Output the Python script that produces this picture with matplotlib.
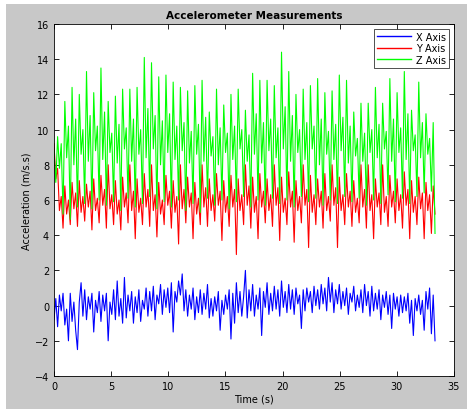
import numpy as np
import matplotlib.pyplot as plt
from matplotlib.patches import Rectangle

# sample spacing (s), ~4 samples per gait cycle
dt = 0.158

x_axis = [
    -0.8, 0.4, -1.2, 0.6, -0.3, 0.7, -1.1, -0.2,
    -2.0, 0.7, -0.9, 0.2, -1.4, -2.5, 0.2, 1.3,
    -0.6, 0.9, -0.8, 0.5, -0.2, 0.7, -1.5, 0.3,
    -0.4, 0.8, -0.9, 0.6, -0.3, 0.7, -2.0, 0.2,
    -0.5, 0.9, -0.8, 1.4, -0.6, 0.4, -1.0, 1.6,
    -0.7, 0.6, -0.3, 0.8, -1.0, 0.5, -0.4, 0.9,
    -0.9, 0.3, -0.2, 1.0, -0.6, 0.8, -0.3, 1.1,
    -0.8, 0.6, 0.1, 1.2, -0.5, 0.9, -0.1, 1.0,
    -0.4, 1.3, -1.5, 0.8, 0.2, 1.4, 0.6, 1.8,
    -0.3, 0.9, -0.6, 0.6, -0.2, 1.0, -0.8, 0.5,
    -0.4, 0.9, -0.5, 0.7, -0.2, 1.2, -0.7, 0.4,
    -0.6, 0.5, -0.3, 0.8, -1.4, 0.3, -0.5, 0.6,
    -0.2, 0.9, -1.9, 0.7, -1.0, 1.3, -0.4, 0.8,
    -0.6, 0.5, 2.0, -0.7, 0.9, -0.3, 1.2, -0.6,
    0.6, -0.2, 1.0, -1.7, 0.8, -0.1, 1.3, -0.5,
    0.7, -0.3, 1.1, -0.2, 0.9, -0.6, 1.4, -0.1,
    0.8, -0.4, 1.2, -0.2, 0.9, -0.5, 1.0, 0.1,
    0.6, -1.3, 0.9, -0.3, 1.0, 0.2, 0.8, -0.4,
    1.1, 0.0, 0.9, -0.2, 1.2, 0.1, 1.0, -0.3,
    1.6, 0.2, 1.3, -0.4, 0.9, 0.1, 1.2, -0.2,
    0.8, 0.0, 1.0, -0.5, 0.7, 0.2, 1.1, -0.3,
    0.6, -0.1, 0.9, -0.4, 1.2, 0.0, 0.8, -0.6,
    1.1, -0.3, 0.7, -0.2, 0.9, -0.8, 0.6, -0.1,
    0.8, -0.5, 0.6, -1.3, 0.7, -0.2, 0.5, -0.6,
    0.6, -0.4, 0.5, -0.3, 0.7, -1.0, 0.3, -1.7,
    0.4, -0.3, 0.6, -0.5, 0.3, -1.4, 0.8, -0.2,
    1.0, -1.6, 0.6, -2.0,
]

y_axis = [
    9.2,
    7.2, 7.8, 5.4, 6.2,  4.4, 6.8, 5.2, 6.0,
    4.6, 7.0, 5.5, 6.4,  4.5, 7.1, 5.3, 6.2,
    4.8, 6.9, 5.6, 6.5,  4.3, 7.2, 5.4, 6.1,
    4.7, 7.4, 5.7, 6.6,  4.4, 8.0, 5.5, 6.3,
    4.6, 7.1, 5.2, 6.0,  4.3, 7.3, 5.6, 6.4,
    4.7, 8.0, 5.4, 6.5,  3.8, 7.2, 5.3, 6.1,
    4.6, 7.5, 5.6, 6.6,  4.5, 8.0, 5.4, 6.3,
    3.9, 7.0, 5.2, 6.0,  4.6, 7.4, 5.7, 6.5,
    4.4, 7.1, 5.3, 6.2,  3.5, 8.0, 5.5, 6.6,
    4.7, 7.3, 5.6, 6.4,  3.8, 7.0, 5.2, 6.1,
    4.6, 8.0, 5.6, 6.7,  4.5, 7.2, 5.4, 6.3,
    4.8, 7.5, 5.7, 6.5,  3.7, 7.1, 5.3, 6.2,
    4.5, 7.4, 5.6, 6.6,  2.9, 7.2, 5.4, 6.3,
    4.6, 8.0, 5.7, 6.8,  4.4, 7.3, 5.3, 6.2,
    3.8, 7.5, 5.6, 6.5,  4.7, 7.2, 5.4, 6.3,
    4.5, 8.0, 5.7, 6.7,  3.7, 7.3, 5.3, 6.1,
    4.6, 7.6, 5.6, 6.5,  3.6, 7.1, 5.4, 6.2,
    4.7, 8.0, 5.7, 6.6,  3.3, 7.4, 5.3, 6.3,
    4.6, 7.2, 5.6, 6.5,  4.4, 7.5, 5.4, 6.2,
    4.8, 8.0, 5.7, 6.7,  3.3, 7.3, 5.4, 6.3,
    4.6, 7.5, 5.6, 6.5,  4.5, 7.1, 5.3, 6.1,
    4.7, 8.0, 5.6, 6.6,  4.4, 8.0, 5.4, 6.3,
    3.8, 7.2, 5.6, 6.4,  4.6, 8.0, 5.3, 6.2,
    4.5, 7.4, 5.6, 6.5,  4.7, 7.2, 5.4, 6.3,
    4.4, 7.6, 5.7, 6.6,  3.8, 7.1, 5.3, 6.2,
    4.6, 7.3, 5.5, 6.4,  3.8, 7.0, 5.4, 6.3,
    4.1, 6.8, 5.2,
]

z_axis = [
    8.8,
    7.0, 9.6, 7.8, 9.2,   5.2, 11.6, 8.4, 10.2,
    4.9, 12.4, 8.0, 10.6, 5.6, 12.0, 8.6, 10.0,
    5.8, 13.3, 8.2, 10.8, 5.5, 12.1, 8.8, 10.2,
    6.0, 13.5, 8.3, 11.0, 5.7, 11.6, 8.7, 9.8,
    5.9, 11.9, 8.1, 10.3, 5.4, 12.3, 8.9, 10.1,
    6.1, 12.3, 8.2, 10.6, 5.6, 12.4, 8.6, 10.0,
    5.8, 14.1, 8.4, 11.2, 6.2, 13.8, 8.9, 10.8,
    5.5, 13.0, 8.0, 10.5, 5.9, 13.1, 8.7, 10.9,
    5.6, 12.7, 8.3, 10.2, 6.0, 12.4, 8.8, 10.4,
    5.4, 12.2, 8.1, 9.9,  5.8, 12.5, 8.6, 10.3,
    5.3, 12.8, 8.2, 10.7, 6.1, 11.0, 8.5, 9.6,
    5.7, 12.3, 8.0, 10.1, 6.0, 11.4, 8.7, 9.8,
    5.5, 12.0, 8.3, 10.2, 5.9, 12.3, 8.9, 10.0,
    6.2, 11.1, 8.2, 9.7,  5.6, 13.2, 8.6, 10.9,
    6.0, 12.8, 8.1, 10.4, 5.7, 12.8, 8.8, 10.6,
    6.1, 12.5, 8.4, 10.1, 5.8, 14.4, 8.9, 11.3,
    6.0, 13.3, 8.2, 10.8, 5.6, 12.0, 8.7, 10.0,
    6.2, 12.3, 8.3, 10.4, 5.9, 12.5, 8.9, 10.2,
    6.1, 12.9, 8.0, 10.6, 5.7, 12.1, 8.6, 9.9,
    6.0, 12.2, 8.3, 10.3, 5.8, 13.1, 8.8, 10.7,
    6.2, 12.8, 8.1, 10.2, 5.9, 11.0, 8.5, 9.5,
    6.1, 11.5, 8.2, 9.8,  5.7, 11.5, 8.7, 10.0,
    6.0, 12.4, 8.4, 10.3, 5.8, 11.5, 8.9, 9.9,
    6.3, 12.9, 8.2, 10.6, 5.9, 12.1, 8.7, 10.1,
    6.1, 13.3, 8.3, 10.9, 5.8, 11.1, 8.8, 9.7,
    6.2, 12.7, 8.4, 10.4, 6.4, 10.9, 8.6, 9.5,
    6.5, 10.4, 4.1,
]

t = np.arange(len(x_axis)) * dt

fig = plt.figure(figsize=(4.67, 4.10), dpi=100, facecolor='white')
# MATLAB-style grey window area
fig.patches.append(Rectangle((6 / 467, 0), 1, 405 / 410, transform=fig.transFigure,
                             facecolor='#c8c8c8', edgecolor='none', zorder=-1))

ax = fig.add_axes([54 / 467, 1 - 377 / 410, 400 / 467, 352 / 410])
ax.plot(t, x_axis, color='#0000ff', lw=0.8, label='X Axis')
ax.plot(t, y_axis, color='#ff0000', lw=0.8, label='Y Axis')
ax.plot(t, z_axis, color='#00ff00', lw=0.8, label='Z Axis')

ax.set_xlim(0, 35)
ax.set_ylim(-4, 16)
ax.set_xticks(range(0, 36, 5))
ax.set_yticks(range(-4, 17, 2))
ax.tick_params(direction='in', length=3.5, labelsize=7, top=True, right=True, width=0.6)
for s in ax.spines.values():
    s.set_linewidth(0.6)

ax.set_title('Accelerometer Measurements', fontsize=7.5, fontweight='bold', pad=4)
ax.set_xlabel('Time (s)', fontsize=7, labelpad=2)
ax.set_ylabel('Acceleration (m/s.s)', fontsize=7, labelpad=2)

leg = ax.legend(loc='upper right', fontsize=7, frameon=True, fancybox=False,
                handlelength=3.5, borderpad=0.3, labelspacing=0.15,
                borderaxespad=0.5, handletextpad=0.5)
leg.get_frame().set_edgecolor('black')
leg.get_frame().set_linewidth(0.6)
for line in leg.get_lines():
    line.set_linewidth(1.0)

fig.savefig('out.png', dpi=100)
